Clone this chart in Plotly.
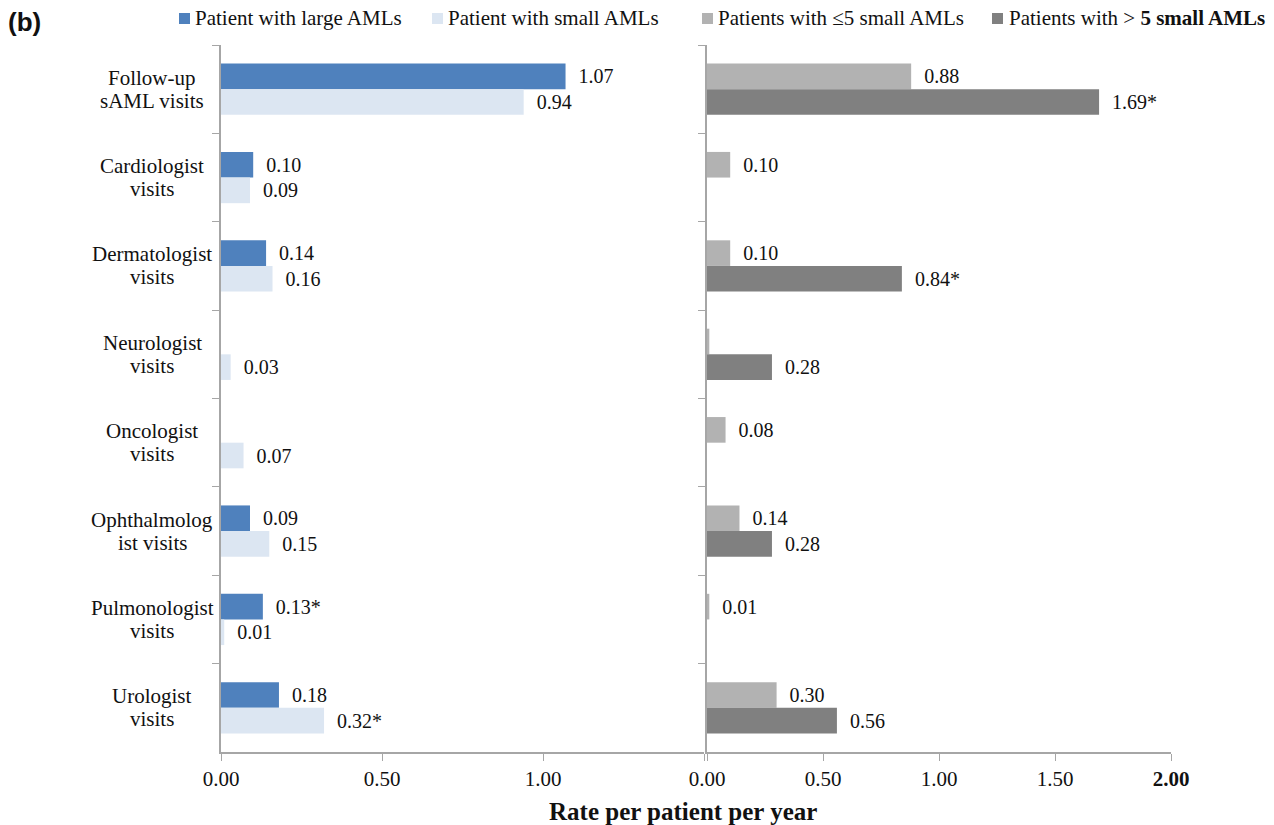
import plotly.graph_objects as go

# Visit categories (top to bottom) and their two-line labels
categories = ["Follow-up sAML visits", "Cardiologist visits", "Dermatologist visits",
              "Neurologist visits", "Oncologist visits", "Ophthalmologist visits",
              "Pulmonologist visits", "Urologist visits"]
category_lines = [("Follow-up", "sAML visits"), ("Cardiologist", "visits"),
                  ("Dermatologist", "visits"), ("Neurologist", "visits"),
                  ("Oncologist", "visits"), ("Ophthalmolog", "ist visits"),
                  ("Pulmonologist", "visits"), ("Urologist", "visits")]

# Rate per patient per year by AML size
large_aml = [1.07, 0.10, 0.14, None, None, 0.09, 0.13, 0.18]
large_aml_lbl = ["1.07", "0.10", "0.14", "", "", "0.09", "0.13*", "0.18"]
small_aml = [0.94, 0.09, 0.16, 0.03, 0.07, 0.15, 0.01, 0.32]
small_aml_lbl = ["0.94", "0.09", "0.16", "0.03", "0.07", "0.15", "0.01", "0.32*"]

# Rate per patient per year by number of small AMLs
le5_small = [0.88, 0.10, 0.10, 0.01, 0.08, 0.14, 0.01, 0.30]
le5_small_lbl = ["0.88", "0.10", "0.10", "", "0.08", "0.14", "0.01", "0.30"]
gt5_small = [1.69, None, 0.84, 0.28, None, 0.28, None, 0.56]
gt5_small_lbl = ["1.69*", "", "0.84*", "0.28", "", "0.28", "", "0.56"]

series_names = ["Patient with large AMLs", "Patient with small AMLs",
                "Patients with \u22645 small AMLs", "Patients with > <b>5 small AMLs</b>"]
series_colors = ["#4f81bd", "#dce6f2", "#b2b2b2", "#808080"]

SERIF = "Liberation Serif, Times New Roman, serif"
AXIS_GREY = "#a6a6a6"
TXT = "#111111"
W, H = 1274, 825


def bar(vals, lbls, name, color, xa, ya):
    return go.Bar(
        x=vals, y=categories, orientation="h", name=name,
        marker=dict(color=color, line=dict(width=0)),
        text=["  " + t if t else "" for t in lbls],
        textposition="outside", cliponaxis=False,
        textfont=dict(family=SERIF, size=20, color=TXT),
        xaxis=xa, yaxis=ya, hoverinfo="x+y",
    )


fig = go.Figure()
fig.add_trace(bar(large_aml, large_aml_lbl, series_names[0], series_colors[0], "x", "y"))
fig.add_trace(bar(small_aml, small_aml_lbl, series_names[1], series_colors[1], "x", "y"))
fig.add_trace(bar(le5_small, le5_small_lbl, series_names[2], series_colors[2], "x2", "y2"))
fig.add_trace(bar(gt5_small, gt5_small_lbl, series_names[3], series_colors[3], "x2", "y2"))

# Panel geometry in pixels
x0, xm, xr0, x1 = 221, 704, 707, 1171
ytop, ybot = 45, 752
xd1 = [x0 / W, xm / W]
xd2 = [xr0 / W, x1 / W]
yd = [1 - ybot / H, 1 - ytop / H]

yaxis_common = dict(
    type="category", categoryorder="array", categoryarray=categories,
    autorange="reversed", showgrid=False, zeroline=False,
    showline=True, linecolor=AXIS_GREY, linewidth=1.5,
    ticks="outside", tickson="boundaries", ticklen=7, tickcolor=AXIS_GREY,
    showticklabels=False, domain=yd,
)
xaxis_common = dict(
    showgrid=False, zeroline=False, showline=True, linecolor=AXIS_GREY, linewidth=1.5,
    ticks="outside", ticklen=7, tickcolor=AXIS_GREY,
    tickfont=dict(family=SERIF, size=21, color=TXT),
)

fig.update_layout(
    width=W, height=H, margin=dict(l=0, r=0, t=0, b=0, autoexpand=False),
    plot_bgcolor="white", paper_bgcolor="white",
    barmode="group", bargap=0.42, bargroupgap=0,
    font=dict(family=SERIF, color=TXT),
    showlegend=False,
    xaxis=dict(domain=xd1, range=[0, 1.5], tickvals=[0, 0.5, 1.0, 1.5],
               ticktext=["0.00", "0.50", "1.00", ""], anchor="y", **xaxis_common),
    xaxis2=dict(domain=xd2, range=[0, 2.0], tickvals=[0, 0.5, 1.0, 1.5, 2.0],
                ticktext=["0.00", "0.50", "1.00", "1.50", "<b>2.00</b>"], anchor="y2", **xaxis_common),
    yaxis=dict(anchor="x", **yaxis_common),
    yaxis2=dict(anchor="x2", **yaxis_common),
)

# Two-line category labels, centered left of the panels
for cat, (l1, l2) in zip(categories, category_lines):
    for txt, shift in ((l1, 11.5), (l2, -11.5)):
        fig.add_annotation(x=152 / W, xref="paper", y=cat, yref="y", yshift=shift, text=txt,
                           showarrow=False, xanchor="center", yanchor="middle",
                           font=dict(family=SERIF, size=21, color=TXT))

# Legend row: colour squares followed by series names
legend_marker_x = [179, 432, 702, 992]
legend_text_x = [193, 446, 716, 1007]
for name, color, mx, tx in zip(series_names, series_colors, legend_marker_x, legend_text_x):
    fig.add_shape(type="rect", xref="paper", yref="paper",
                  x0=mx / W, x1=(mx + 11) / W, y0=1 - 24 / H, y1=1 - 13 / H,
                  fillcolor=color, line=dict(width=0))
    fig.add_annotation(x=tx / W, xref="paper", y=1 - 18 / H, yref="paper", text=name,
                       showarrow=False, xanchor="left", yanchor="middle",
                       font=dict(family=SERIF, size=21, color=TXT))

fig.add_annotation(x=683 / W, xref="paper", y=1 - 811 / H, yref="paper",
                   text="<b>Rate per patient per year</b>", showarrow=False,
                   xanchor="center", yanchor="middle",
                   font=dict(family=SERIF, size=25, color=TXT))
fig.add_annotation(x=6 / W, xref="paper", y=1 - 22 / H, yref="paper",
                   text="<b>(b)</b>", showarrow=False, xanchor="left", yanchor="middle",
                   font=dict(family="Liberation Sans, Arial, sans-serif", size=26, color=TXT))

fig.write_html("out.html")
